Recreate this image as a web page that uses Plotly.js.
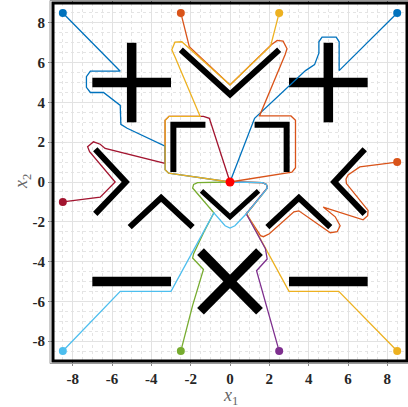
<!DOCTYPE html>
<html>
<head>
<meta charset="utf-8">
<script src="https://cdn.plot.ly/plotly-3.0.1.min.js"></script>
<style>html,body{margin:0;padding:0;background:#fff;}#chart{width:408px;height:407px;}</style>
</head>
<body>
<div id="chart"></div>
<script>
// ---- obstacles (centre lines) ----
const barX = [-7,-3,null,-5,-5,null, 3,7,null, 5,5,null, -7,-3,null, 3,7,null, -1.5,1.5,null, -1.5,1.5];
const barY = [ 5, 5,null, 3, 7,null, 5,5,null, 3,7,null, -5,-5,null, -5,-5,null, -3.5,-6.5,null, -6.5,-3.5];
const thinX = [-2.5,0,2.5,null, -1.25,-2.88,-2.88,null, 1.25,2.88,2.88,null, -6.85,-5.3,-6.85,null, 6.85,5.3,6.85,null, -5.1,-3.5,-1.9,null, 1.9,3.5,5.1];
const thinY = [6.65,4.4,6.65,null, 2.88,2.88,0.5,null, 2.88,2.88,0.5,null, 1.65,0,-1.6,null, 1.65,0,-1.6,null, -2.27,-0.8,-2.27,null, -2.27,-0.8,-2.27];
const smallVX = [-1.45,0,1.45];
const smallVY = [-0.45,-1.75,-0.45];

// ---- agent paths ----
const p1X = [8.5,5.55,5.55,5.4,4.68,4.52,4.52,4.3,3.84,1.4,1.25,0];
const p1Y = [8.5,5.6,7.05,7.28,7.28,7.05,6.48,5.9,5.6,3.32,3.2,0];
const p2X = [8.5,6.6,6.0,5.9,5.92,7.02,7.0,6.77,4.74,5.35,5.6,5.45,5.1,3.5,3.25,2.0,1.7,1.55,0.83,1.75,1.9,1.85,1.65,0];
const p2Y = [1.0,0.76,0.35,0.15,-0.08,-1.43,-1.7,-1.9,-1.26,-1.75,-2.2,-2.5,-2.55,-1.45,-1.5,-2.6,-2.75,-2.7,-1.6,-0.5,-0.3,-0.12,-0.03,0];
const p3X = [8.5,5.53,3.0,0.85,1.75,1.9,1.85,1.65,0];
const p3Y = [-8.5,-5.5,-5.5,-1.6,-0.5,-0.3,-0.12,-0.03,0];
const p4X = [2.5,1.89,1.35,1.89,1.8,0.83,1.75,1.9,1.85,1.65,0];
const p4Y = [-8.5,-6.3,-4.46,-3.87,-3.35,-1.6,-0.5,-0.3,-0.12,-0.03,0];
const p5X = [-2.5,-1.9,-1.35,-1.9,-1.85,-1.32,-0.82,-1.75,-1.9,-1.85,-1.65,0];
const p5Y = [-8.5,-6.2,-4.4,-3.82,-3.6,-2.5,-1.55,-0.5,-0.3,-0.12,-0.03,0];
const p6X = [-8.5,-5.58,-3.0,-0.82,-0.25,0,0.25,0.83,1.75,1.9,1.85,1.65,0];
const p6Y = [-8.5,-5.5,-5.5,-1.55,-2.2,-2.32,-2.2,-1.6,-0.5,-0.3,-0.12,-0.03,0];
const p7X = [-8.5,-6.6,-5.84,-7.14,-7.24,-6.94,-6.6,-6.35,-3.3,-3.3,-3.1,-1.35,-1.05,0];
const p7Y = [-1.0,-0.76,0.0,1.52,1.77,2.02,1.9,1.69,0.93,3.1,3.3,3.3,3.2,0];
const p8X = [-8.5,-5.58,-7.1,-7.3,-7.3,-7.1,-6.43,-5.58,-5.55,-5.23,-3.3,-3.3,-3.12,0];
const p8Y = [8.5,5.57,5.57,5.3,4.76,4.5,4.5,3.85,2.9,2.7,1.8,0.62,0.44,0];
const p9X = [-2.5,-2.07,0,2.1,2.4,2.7,2.9,2.8,1.5,3.1,3.33,3.33,3.15,0];
const p9Y = [8.5,6.8,4.88,6.9,7.12,7.08,6.7,6.4,3.32,3.32,3.1,0.72,0.5,0];
const p10X = [2.5,2.07,0,-2.3,-2.45,-2.8,-2.96,-2.8,-1.52,-3.1,-3.3,-3.3,-3.12,0];
const p10Y = [8.5,6.85,4.88,6.9,7.05,7.03,6.65,6.3,3.3,3.3,3.1,0.62,0.44,0];
const pathColors = ['#0072BD','#D95319','#EDB120','#7E2F8E','#77AC30','#4DBEEE','#A2142F','#0072BD','#D95319','#EDB120'];
const goalX = [0], goalY = [0];
const ticks = [-8,-6,-4,-2,0,2,4,6,8];

const pathsX = [p1X,p2X,p3X,p4X,p5X,p6X,p7X,p8X,p9X,p10X];
const pathsY = [p1Y,p2Y,p3Y,p4Y,p5Y,p6Y,p7Y,p8Y,p9Y,p10Y];

const traces = [];
traces.push({x:barX,y:barY,mode:'lines',line:{color:'#000',width:9.5},connectgaps:false});
traces.push({x:thinX,y:thinY,mode:'lines',line:{color:'#000',width:6},connectgaps:false});
traces.push({x:smallVX,y:smallVY,mode:'lines',line:{color:'#000',width:5}});
pathsX.forEach((px,i)=>{
  traces.push({x:px,y:pathsY[i],mode:'lines',line:{color:pathColors[i],width:1.3}});
});
pathsX.forEach((px,i)=>{
  traces.push({x:[px[0]],y:[pathsY[i][0]],mode:'markers',marker:{color:pathColors[i],size:8}});
});
traces.push({x:goalX,y:goalY,mode:'markers',marker:{color:'#FF0000',size:9}});

const axisCommon = {
  range:[-9,9], tickvals:ticks, ticktext:ticks.map(String),
  showgrid:true, gridcolor:'#e2e2e2', gridwidth:1,
  minor:{dtick:0.5, showgrid:true, gridcolor:'#e4e4e4', griddash:'dot', gridwidth:1},
  zeroline:false, showline:false,
  ticks:'outside', ticklen:4, tickcolor:'#888', mirror:'ticks',
  tickfont:{family:'Liberation Serif', size:15, color:'#262626', weight:'bold'},
  fixedrange:true
};

const layout = {
  width:408, height:407,
  margin:{l:53, r:1, t:3, b:46},
  paper_bgcolor:'#fff', plot_bgcolor:'#fff',
  showlegend:false, hovermode:false,
  xaxis:Object.assign({}, axisCommon),
  yaxis:Object.assign({}, axisCommon),
  shapes:[
    {type:'rect', xref:'paper', yref:'paper', x0:-3/354, x1:1+3/354, y0:-2.5/358, y1:1+2.5/358, line:{color:'#9a9a9a', width:1}, layer:'above'},
    {type:'rect', xref:'paper', yref:'paper', x0:0, x1:1, y0:0, y1:1, line:{color:'#000', width:3}, layer:'above'}
  ],
  annotations:[
    {xref:'paper', yref:'paper', x:0.5, y:-35.5/358, xanchor:'center', yanchor:'middle', showarrow:false,
     text:'<i>x</i><sub>1</sub>', font:{family:'Liberation Serif', size:18, color:'#666'}},
    {xref:'paper', yref:'paper', x:-31/354, y:0.5, xanchor:'center', yanchor:'middle', showarrow:false, textangle:-90,
     text:'<i>x</i><sub>2</sub>', font:{family:'Liberation Serif', size:18, color:'#666'}}
  ]
};

Plotly.newPlot('chart', traces, layout, {staticPlot:true, displayModeBar:false});
</script>
</body>
</html>
